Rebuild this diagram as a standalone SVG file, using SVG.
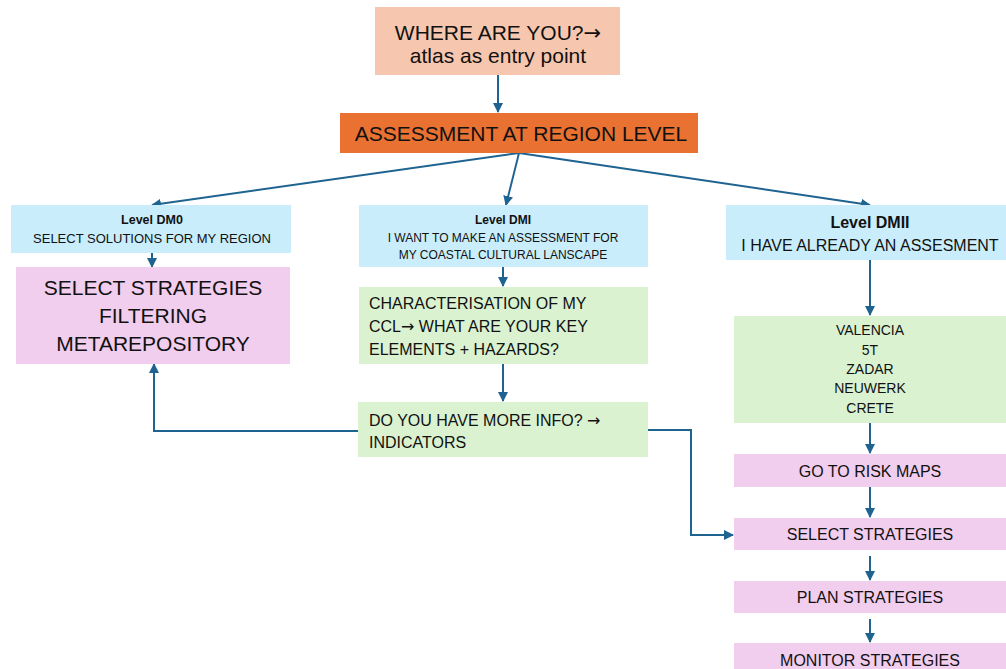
<svg xmlns="http://www.w3.org/2000/svg" width="1006" height="669" viewBox="0 0 1006 669">
<defs>
<marker id="ah" viewBox="0 0 10 10" refX="9" refY="5" markerWidth="5" markerHeight="5" orient="auto" markerUnits="strokeWidth">
<path d="M0,0 L10,5 L0,10 z" fill="#1F6391"/>
</marker>
<style>
text{font-family:"Liberation Sans",Arial,sans-serif;fill:#111;}
.c{text-anchor:middle;}
.b{font-weight:bold;}
.arr{font-family:"DejaVu Sans",sans-serif;}
.ln{fill:none;stroke:#1F6391;stroke-width:2;marker-end:url(#ah);}
.peach{fill:#F7C6AE;}
.orange{fill:#E97132;}
.blue{fill:#C9EDFB;}
.pink{fill:#F1CDEE;}
.green{fill:#DAF2D0;}
</style>
</defs>
<rect width="1006" height="669" fill="#fff"/>
<g id="connectors">
<path class="ln" d="M498,75 V112"/>
<path class="ln" d="M519,153 L152,205"/>
<path class="ln" d="M519,153 L506,205"/>
<path class="ln" d="M519,153 L870,205"/>
<path class="ln" d="M152,253 V267"/>
<path class="ln" d="M503,267 V286"/>
<path class="ln" d="M503,364 V401"/>
<path class="ln" d="M358,431 H154 V364"/>
<path class="ln" d="M648,430 H691 V535 H733"/>
<path class="ln" d="M870,260 V315"/>
<path class="ln" d="M870,423 V453"/>
<path class="ln" d="M870,487 V517"/>
<path class="ln" d="M870,556 V580"/>
<path class="ln" d="M870,619 V642"/>
</g>
<g id="n-where">
<rect class="peach" x="375" y="7" width="245" height="68"/>
<text class="c" x="498" y="40" font-size="21">WHERE ARE YOU?<tspan class="arr">→</tspan></text>
<text class="c" x="498" y="63" font-size="21">atlas as entry point</text>
</g>
<g id="n-assess">
<rect class="orange" x="340" y="113" width="358" height="40"/>
<text class="c" x="521" y="141" font-size="21">ASSESSMENT AT REGION LEVEL</text>
</g>
<g id="n-dm0">
<rect class="blue" x="11" y="205" width="280" height="48"/>
<text class="c b" x="152" y="224" font-size="12.5">Level DM0</text>
<text class="c" x="152" y="243" font-size="13">SELECT SOLUTIONS FOR MY REGION</text>
</g>
<g id="n-filter">
<rect class="pink" x="16" y="267" width="274" height="97"/>
<text class="c" x="153" y="295" font-size="21">SELECT STRATEGIES</text>
<text class="c" x="153" y="323" font-size="21">FILTERING</text>
<text class="c" x="153" y="351" font-size="21">METAREPOSITORY</text>
</g>
<g id="n-dmi">
<rect class="blue" x="359" y="205" width="289" height="62"/>
<text class="c b" x="503" y="224" font-size="12">Level DMI</text>
<text class="c" x="503" y="242" font-size="12">I WANT TO MAKE AN ASSESSMENT FOR</text>
<text class="c" x="503" y="259" font-size="12">MY COASTAL CULTURAL LANSCAPE</text>
</g>
<g id="n-char">
<rect class="green" x="359" y="287" width="289" height="77"/>
<text x="369" y="309" font-size="16">CHARACTERISATION OF MY</text>
<text x="369" y="332" font-size="16">CCL<tspan class="arr">→</tspan> WHAT ARE YOUR KEY</text>
<text x="369" y="355" font-size="16">ELEMENTS + HAZARDS?</text>
</g>
<g id="n-info">
<rect class="green" x="358" y="402" width="290" height="55"/>
<text x="369" y="426" font-size="16">DO YOU HAVE MORE INFO? <tspan class="arr">→</tspan></text>
<text x="369" y="448" font-size="16">INDICATORS</text>
</g>
<g id="n-dmii">
<rect class="blue" x="726" y="205" width="280" height="55"/>
<text class="c b" x="870" y="228" font-size="16">Level DMII</text>
<text class="c" x="870" y="251" font-size="16">I HAVE ALREADY AN ASSESMENT</text>
</g>
<g id="n-sites">
<rect class="green" x="734" y="316" width="272" height="107"/>
<text class="c" x="870" y="335" font-size="14">VALENCIA</text>
<text class="c" x="870" y="355" font-size="14">5T</text>
<text class="c" x="870" y="374" font-size="14">ZADAR</text>
<text class="c" x="870" y="393" font-size="14">NEUWERK</text>
<text class="c" x="870" y="413" font-size="14">CRETE</text>
</g>
<g id="n-risk">
<rect class="pink" x="734" y="454" width="272" height="33"/>
<text class="c" x="870" y="477" font-size="16">GO TO RISK MAPS</text>
</g>
<g id="n-select">
<rect class="pink" x="734" y="518" width="272" height="32"/>
<text class="c" x="870" y="540" font-size="16">SELECT STRATEGIES</text>
</g>
<g id="n-plan">
<rect class="pink" x="734" y="581" width="272" height="32"/>
<text class="c" x="870" y="603" font-size="16">PLAN STRATEGIES</text>
</g>
<g id="n-monitor">
<rect class="pink" x="734" y="643" width="272" height="30"/>
<text class="c" x="870" y="666" font-size="16">MONITOR STRATEGIES</text>
</g>
</svg>
